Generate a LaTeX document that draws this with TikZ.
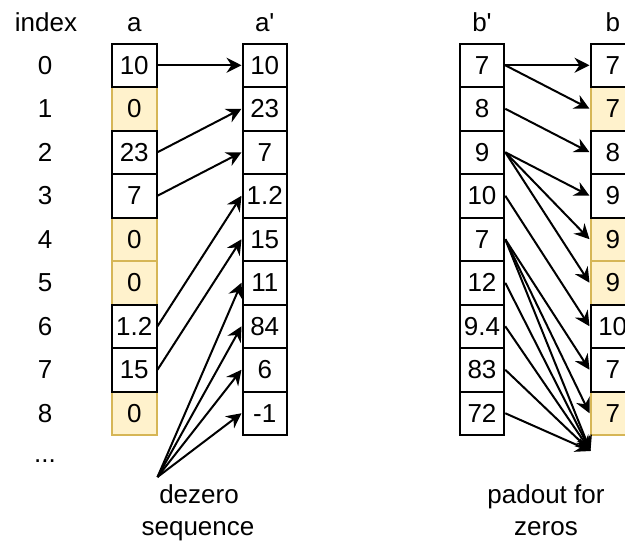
\documentclass[tikz,border=0pt]{standalone}
\usepackage{fontspec}
\setmainfont{Liberation Sans}
\usetikzlibrary{arrows.meta}
\definecolor{zfill}{HTML}{FFF2CC}
\definecolor{zline}{HTML}{D6B656}
\newcommand{\prm}{\XeTeXglyph\XeTeXcharglyph"27\relax}
\begin{document}
\begin{tikzpicture}[x=1pt,y=-1pt,
  txt/.style={font=\fontsize{26}{31}\selectfont, inner sep=0pt},
  cell/.style={txt, draw=black, fill=white, line width=2pt, minimum width=44.5pt, minimum height=43.5pt},
  zero/.style={cell, draw=zline, fill=zfill},
  arr/.style={line width=2pt, -{Stealth[length=15pt,width=15pt,inset=5pt]}},
]
\useasboundingbox (0,0) rectangle (625,542);
\clip (0,0) rectangle (625,542);
% headers
\node[txt, anchor=base] (hidx) at (46,31) {index};
\node[txt, anchor=base] (ha) at (134.25,31) {a};
\node[txt, anchor=base] (hap) at (264.75,31) {a\prm};
\node[txt, anchor=base] (hbp) at (482,31) {b\prm};
\node[txt, anchor=base] (hb) at (612.75,31) {b};
% index
\foreach \i in {0,...,8} \node[txt] (i\i) at (45,{65.25+43.5*\i}) {\i};
\node[txt] (idots) at (45,461) {...};
% column a
\foreach \v/\i in {0/1,0/4,0/5,0/8} \node[zero] (a\i) at (134.25,{65.25+43.5*\i}) {\v};
\foreach \v/\i in {10/0,23/2,7/3,1.2/6,15/7} \node[cell] (a\i) at (134.25,{65.25+43.5*\i}) {\v};
% column a'
\foreach \v [count=\j from 0] in {10,23,7,1.2,15,11,84,6,-1} \node[cell] (ap\j) at (264.75,{65.25+43.5*\j}) {\v};
% column b'
\foreach \v [count=\j from 0] in {7,8,9,10,7,12,9.4,83,72} \node[cell] (bp\j) at (482,{65.25+43.5*\j}) {\v};
% column b
\foreach \v/\i in {7/1,9/4,9/5,7/8} \node[zero] (b\i) at (612.75,{65.25+43.5*\i}) {\v};
\foreach \v/\i in {7/0,8/2,9/3,10/6,7/7} \node[cell] (b\i) at (612.75,{65.25+43.5*\i}) {\v};
% bottom labels
\node[txt, anchor=base] (dz1) at (199,503) {dezero};
\node[txt, anchor=base] (dz2) at (198,535) {sequence};
\node[txt, anchor=base] (pd1) at (546,503) {padout for};
\node[txt, anchor=base] (pd2) at (546,535) {zeros};
\coordinate (dz) at (157.5,477);
\coordinate (pad) at (590.5,451);
% a -> a'
\draw[arr] (a0.east) -- (ap0.west);
\draw[arr] (a2.east) -- (ap1.west);
\draw[arr] (a3.east) -- (ap2.west);
\draw[arr] (a6.east) -- (ap3.west);
\draw[arr] (a7.east) -- (ap4.west);
\foreach \j in {5,...,8} \draw[arr] (dz) -- (ap\j.west);
% b' -> b
\draw[arr] (bp0.east) -- (b0.west);
\draw[arr] (bp0.east) -- (b1.west);
\draw[arr] (bp1.east) -- (b2.west);
\foreach \j in {3,4,5} \draw[arr] (bp2.east) -- (b\j.west);
\draw[arr] (bp3.east) -- (b6.west);
\draw[arr] (bp4.east) -- (b7.west);
\draw[arr] (bp4.east) -- (b8.west);
\foreach \j in {4,...,8} \draw[arr] (bp\j.east) -- (pad);
\end{tikzpicture}
\end{document}
